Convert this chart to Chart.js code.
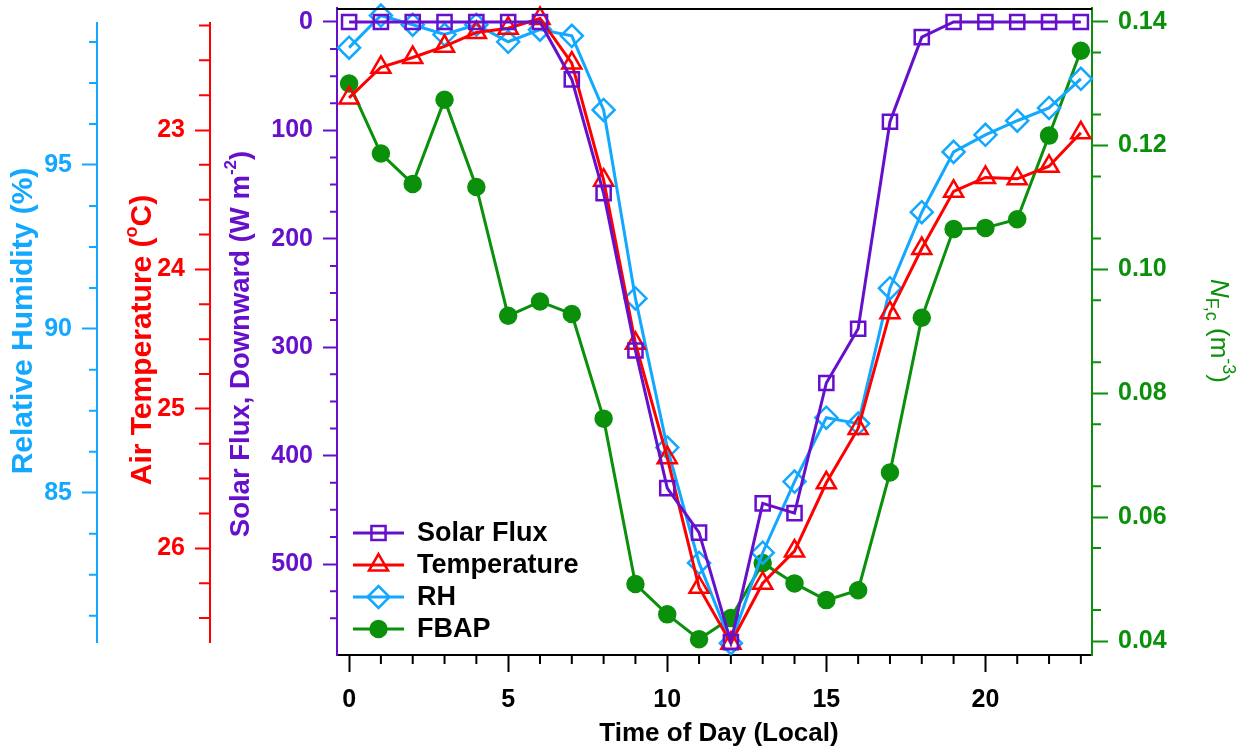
<!DOCTYPE html>
<html>
<head>
<meta charset="utf-8">
<title>Diurnal solar flux, temperature, RH and FBAP</title>
<script src="https://cdn.jsdelivr.net/npm/chart.js@4.4.0/dist/chart.umd.min.js"></script>
<style>
  html, body { margin: 0; padding: 0; background: #fff; }
  #wrap { width: 1255px; height: 755px; }
</style>
</head>
<body>
<div id="wrap"><canvas id="myChart" width="1255" height="755"></canvas></div>
<script>
const hours = [0, 1, 2, 3, 4, 5, 6, 7, 8, 9, 10, 11, 12, 13, 14, 15, 16, 17, 18, 19, 20, 21, 22, 23];
const solarFlux = [0, 0, 0, 0, 0, 0, 0, 53, 158, 303, 430, 471, 572, 444, 453, 333, 283, 92, 14, 0, 0, 0, 0, 0];
const airTemp = [22.77, 22.55, 22.48, 22.40, 22.30, 22.27, 22.20, 22.52, 23.36, 24.53, 25.35, 26.28,
                 26.68, 26.25, 26.02, 25.53, 25.14, 24.31, 23.85, 23.44, 23.34, 23.35, 23.26, 23.02];
const relHumidity = [98.58, 99.56, 99.28, 98.98, 99.28, 98.76, 99.13, 98.94, 96.68, 90.93, 86.38, 82.86,
                     80.41, 83.17, 85.34, 87.29, 87.11, 91.24, 93.56, 95.40, 95.92, 96.35, 96.74, 97.63];
const fbap = [0.1300, 0.1187, 0.1138, 0.1274, 0.1133, 0.0925, 0.0948, 0.0928, 0.0759, 0.0492, 0.0443, 0.0403,
              0.0437, 0.0526, 0.0493, 0.0466, 0.0482, 0.0672, 0.0922, 0.1065, 0.1067, 0.1081, 0.1216, 0.1353];

const hourTicks = [0, 5, 10, 15, 20];
const solarTicks = [0, 100, 200, 300, 400, 500];
const tempTicks = [23, 24, 25, 26];
const rhTicks = [85, 90, 95];
const fbapTicks = [0.04, 0.06, 0.08, 0.10, 0.12, 0.14];

const hourMinor = [1, 2, 3, 4, 6, 7, 8, 9, 11, 12, 13, 14, 16, 17, 18, 19, 21, 22, 23];
const solarMinor = [25, 50, 75, 125, 150, 175, 225, 250, 275, 325, 350, 375, 425, 450, 475, 525, 550];
const tempMinor = [22.25, 22.5, 22.75, 23.25, 23.5, 23.75, 24.25, 24.5, 24.75, 25.25, 25.5, 25.75, 26.25, 26.5];
const rhMinor = [98.75, 97.5, 96.25, 93.75, 92.5, 91.25, 88.75, 87.5, 86.25, 83.75, 82.5, 81.25];
const fbapMinor = [0.045, 0.055, 0.065, 0.075, 0.085, 0.095, 0.105, 0.115, 0.125, 0.135];

const PURPLE = '#6610cc';
const RED = '#ff0000';
const BLUE = '#12a8ff';
const GREEN = '#0a900a';
const FONT = "'Liberation Sans', Arial, Helvetica, sans-serif";

function points(values) {
    return hours.map((h, i) => ({ x: h, y: values[i] }));
}

function series(label, values, axis, color, style, radius, filled) {
    return {
        label: label,
        data: points(values),
        yAxisID: axis,
        borderColor: color,
        borderWidth: 3,
        pointStyle: style,
        pointRadius: radius,
        pointBorderWidth: 2.5,
        pointBorderColor: color,
        pointBackgroundColor: filled ? color : 'rgba(0,0,0,0)',
        tension: 0,
        clip: false
    };
}

function yAxis(pos, color, weight, width, min, max, reverse, majors, tickLen, pad, border, fmt) {
    return {
        type: 'linear',
        position: pos,
        weight: weight,
        min: min,
        max: max,
        reverse: reverse,
        afterBuildTicks: s => { s.ticks = majors.map(v => ({ value: v })); },
        afterFit: s => {
            s.width = width;
            s.paddingTop = 0; s.paddingBottom = 0; s.paddingLeft = 0; s.paddingRight = 0;
        },
        grid: { display: true, drawOnChartArea: false, drawTicks: true, tickLength: tickLen, tickWidth: 2, tickColor: color, color: color },
        border: { display: border, color: color, width: 2 },
        ticks: {
            color: color, padding: pad, autoSkip: false,
            font: { family: FONT, size: 25, weight: 'bold' },
            callback: fmt || (v => String(v))
        }
    };
}

function drawRuns(ctx, runs, cx, cy, angle, color) {
    ctx.save();
    ctx.translate(cx, cy);
    ctx.rotate(angle);
    ctx.fillStyle = color;
    ctx.textBaseline = 'middle';
    ctx.textAlign = 'left';
    let total = 0;
    runs.forEach(r => { ctx.font = r.font; r.w = ctx.measureText(r.text).width; total += r.w; });
    let x = -total / 2;
    runs.forEach(r => { ctx.font = r.font; ctx.fillText(r.text, x, r.dy || 0); x += r.w; });
    ctx.restore();
}

function minorTicks(ctx, scale, values, len, color) {
    ctx.strokeStyle = color;
    ctx.lineWidth = 2;
    ctx.beginPath();
    values.forEach(v => {
        const p = scale.getPixelForValue(v);
        if (scale.isHorizontal()) {
            ctx.moveTo(p, scale.top); ctx.lineTo(p, scale.top + len);
        } else if (scale.position === 'left') {
            ctx.moveTo(scale.right - len, p); ctx.lineTo(scale.right, p);
        } else {
            ctx.moveTo(scale.left, p); ctx.lineTo(scale.left + len, p);
        }
    });
    ctx.stroke();
}

const extras = {
    id: 'extras',
    afterDraw(chart) {
        const ctx = chart.ctx;
        const area = chart.chartArea;
        const sc = chart.scales;
        ctx.save();

        // top frame line
        ctx.strokeStyle = '#000';
        ctx.lineWidth = 2;
        ctx.beginPath();
        ctx.moveTo(area.left, area.top + 1); ctx.lineTo(area.right, area.top + 1);
        ctx.stroke();

        // the two free-standing axis lines are a bit shorter than the plot
        [[sc.yRH, BLUE], [sc.yTemp, RED]].forEach(([s, c]) => {
            ctx.strokeStyle = c;
            ctx.lineWidth = 2;
            ctx.beginPath();
            ctx.moveTo(s.right - 1, area.top + 14); ctx.lineTo(s.right - 1, area.bottom - 12);
            ctx.stroke();
        });

        minorTicks(ctx, sc.x, hourMinor, 9, '#000');
        minorTicks(ctx, sc.ySolar, solarMinor, 7, PURPLE);
        minorTicks(ctx, sc.yTemp, tempMinor, 12, RED);
        minorTicks(ctx, sc.yRH, rhMinor, 9, BLUE);
        minorTicks(ctx, sc.yFbap, fbapMinor, 9, GREEN);

        // legend, lower left inside the plot
        const x0 = area.left + 16;
        chart.data.datasets.forEach((ds, i) => {
            const y = area.bottom - 122 + i * 32;
            ctx.strokeStyle = ds.borderColor;
            ctx.lineWidth = 3;
            ctx.beginPath();
            ctx.moveTo(x0, y); ctx.lineTo(x0 + 51, y);
            ctx.stroke();
            ctx.lineWidth = ds.pointBorderWidth;
            ctx.fillStyle = ds.pointBackgroundColor;
            Chart.helpers.drawPoint(ctx, { pointStyle: ds.pointStyle, radius: ds.pointRadius, borderWidth: ds.pointBorderWidth, rotation: 0 }, x0 + 25.5, y);
            ctx.fillStyle = '#000';
            ctx.font = 'bold 27px ' + FONT;
            ctx.textBaseline = 'middle';
            ctx.textAlign = 'left';
            ctx.fillText(ds.label, x0 + 64, y + 1);
        });

        // axis titles
        const B30 = 'bold 30px ' + FONT;
        const B18 = 'bold 18px ' + FONT;
        const P27 = 'bold 27.5px ' + FONT;
        drawRuns(ctx, [{ text: 'Relative Humidity (%)', font: B30 }], sc.yRH.left + 24, 321, -Math.PI / 2, BLUE);
        drawRuns(ctx, [{ text: 'Air Temperature (', font: B30 }, { text: 'o', font: B18, dy: -11 }, { text: 'C)', font: B30 }],
            sc.yTemp.left + 45, 340, -Math.PI / 2, RED);
        drawRuns(ctx, [{ text: 'Solar Flux, Downward (W m', font: P27 }, { text: '-2', font: 'bold 17px ' + FONT, dy: -10 }, { text: ')', font: P27 }],
            sc.ySolar.left + 30, 344, -Math.PI / 2, PURPLE);
        drawRuns(ctx, [{ text: 'N', font: 'italic 26px ' + FONT }, { text: 'F,c', font: '18px ' + FONT, dy: 7 },
            { text: ' (m', font: '26px ' + FONT }, { text: '-3', font: '18px ' + FONT, dy: -10 }, { text: ')', font: '26px ' + FONT }],
            sc.yFbap.left + 126, 331, Math.PI / 2, GREEN);
        drawRuns(ctx, [{ text: 'Time of Day (Local)', font: 'bold 26px ' + FONT }], 719, sc.x.top + 79, 0, '#000');

        ctx.restore();
    }
};

const ctx = document.getElementById('myChart').getContext('2d');
new Chart(ctx, {
    type: 'line',
    data: {
        datasets: [
            series('Solar Flux', solarFlux, 'ySolar', PURPLE, 'rect', 10, false),
            series('Temperature', airTemp, 'yTemp', RED, 'triangle', 11, false),
            series('RH', relHumidity, 'yRH', BLUE, 'rectRot', 11, false),
            series('FBAP', fbap, 'yFbap', GREEN, 'circle', 8, true)
        ]
    },
    options: {
        responsive: false,
        animation: false,
        devicePixelRatio: 1,
        layout: { autoPadding: false, padding: { top: 8, left: 0, right: 0, bottom: 0 } },
        plugins: { legend: { display: false }, tooltip: { enabled: false } },
        scales: {
            x: {
                type: 'linear',
                position: 'bottom',
                min: -0.38,
                max: 23.35,
                afterBuildTicks: s => { s.ticks = hourTicks.map(v => ({ value: v })); },
                afterFit: s => { s.height = 100; s.paddingLeft = 0; s.paddingRight = 0; },
                grid: { display: true, drawOnChartArea: false, tickLength: 17, tickWidth: 2, tickColor: '#000', color: '#000' },
                border: { display: true, color: '#000', width: 2 },
                ticks: { color: '#000', padding: 13, autoSkip: false, maxRotation: 0,
                    font: { family: FONT, size: 25, weight: 'bold' }, callback: v => String(v) }
            },
            yRH: yAxis('left', BLUE, 3, 98, 80.05, 99.79, false, rhTicks, 16, 10, false),
            yTemp: yAxis('left', RED, 2, 113, 22.125, 26.765, true, tempTicks, 16, 10, false),
            ySolar: yAxis('left', PURPLE, 1, 126, -12.9, 583.9, true, solarTicks, 14, 10, true),
            yFbap: yAxis('right', GREEN, 1, 163, 0.03774, 0.1422, false, fbapTicks, 16, 10, true, v => v.toFixed(2))
        }
    },
    plugins: [extras]
});
</script>
</body>
</html>
